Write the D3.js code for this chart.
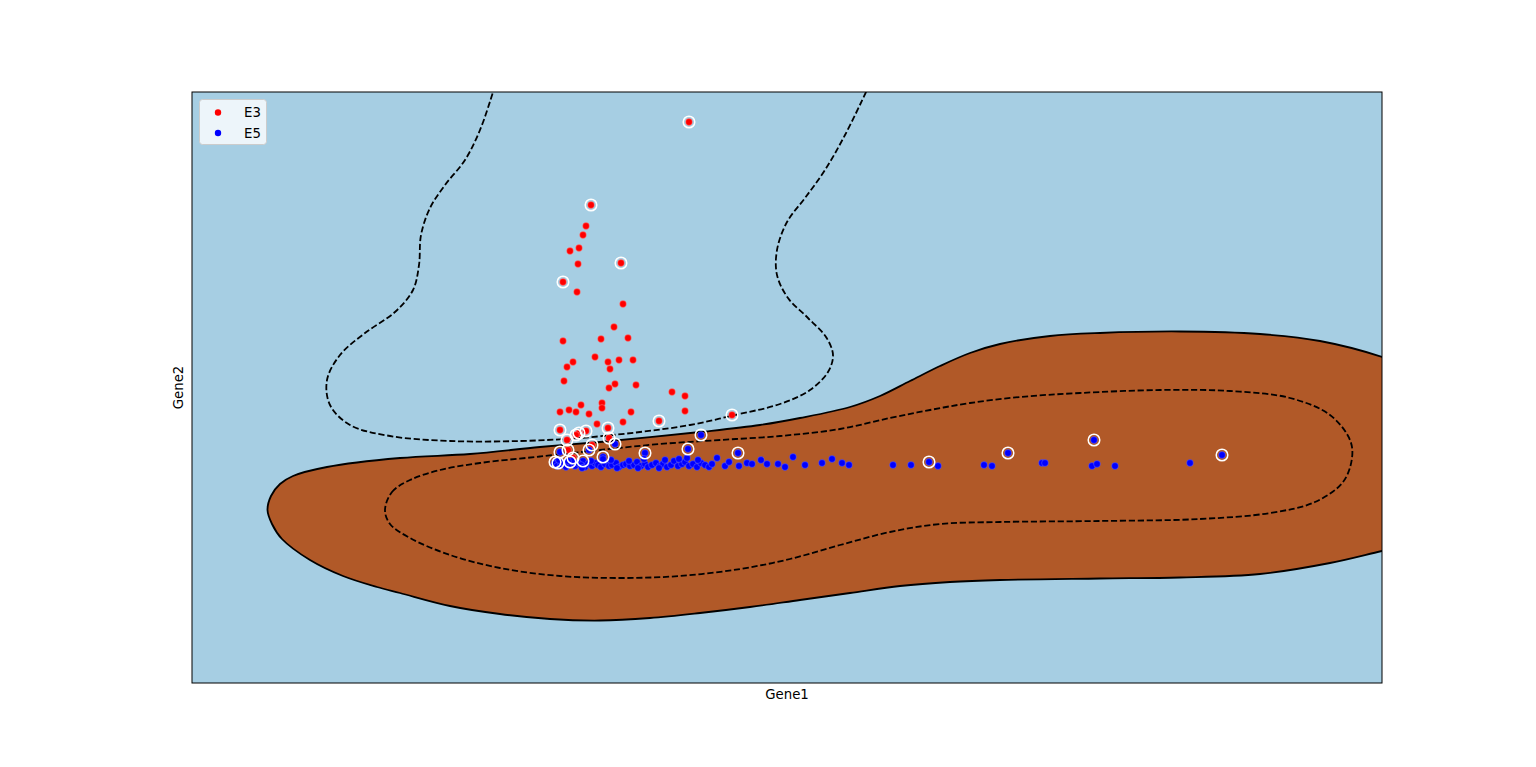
<!DOCTYPE html>
<html>
<head>
<meta charset="utf-8">
<script src="https://d3js.org/d3.v7.min.js"></script>
<style>
  html, body { margin: 0; padding: 0; background: #ffffff; }
  svg { display: block; }
  text { font-family: "DejaVu Sans", sans-serif; }
</style>
</head>
<body>
<script>
// ---------------- DATA ----------------
const seriesNames = ["E3", "E5"];
const axisTitles = ["Gene1", "Gene2"];

// E3 (red)
const e3X = [49.7, 39.9, 39.4, 39.1, 37.8, 38.7, 38.6, 42.9, 37.1, 38.5, 43.1, 42.2, 37.1, 40.9, 43.6,
  40.3, 38.1, 37.5, 41.6, 42.7, 44.1, 41.8, 37.2, 42.3, 41.7, 44.4, 48.0, 49.3, 49.3, 38.9,
  41.0, 41.0, 37.7, 36.8, 38.4, 39.7, 43.9, 43.1, 40.5, 46.7, 54.0, 36.8, 38.7, 39.4, 41.6,
  37.5, 38.4, 41.7, 40.0, 37.6, 38.1];
const e3Y = [56.1, 47.8, 45.7, 44.8, 43.2, 43.5, 41.9, 42.0, 40.1, 39.1, 37.9, 35.6, 34.2, 34.4, 34.5,
  32.6, 32.1, 31.6, 32.1, 32.3, 32.3, 31.4, 30.2, 29.9, 29.5, 29.8, 29.1, 28.7, 27.2, 27.8,
  28.0, 27.5, 27.3, 27.1, 27.1, 26.9, 27.1, 26.1, 25.9, 26.2, 26.8, 25.3, 25.0, 25.2, 25.5,
  24.3, 24.8, 24.5, 23.8, 23.3, 22.5];

// E5 (blue)
const e5X = [42.3, 50.9, 39.7, 36.8, 45.3, 49.6, 54.6, 41.1, 39.1, 37.8, 36.3, 36.6, 73.7, 81.6, 90.2, 103.0,
  52.5, 53.3, 53.7, 54.7, 55.5, 56.0, 56.9, 57.5, 58.6, 59.3, 60.1, 61.3, 63.0, 64.0, 65.0, 65.7,
  70.1, 71.9, 74.6, 79.2, 80.0, 85.0, 85.3, 90.0, 90.5, 92.3, 99.8,
  36.2, 36.5, 36.9, 37.2, 37.4, 37.9, 38.3, 38.6, 38.9, 39.3, 39.6, 40.0, 40.3, 40.6, 40.9, 41.3,
  41.7, 42.0, 42.4, 42.7, 43.1, 43.4, 43.8, 44.2, 44.5, 44.9, 45.3, 45.6, 46.0, 46.4, 46.8, 47.1,
  47.5, 47.9, 48.2, 48.6, 49.0, 49.3, 49.7, 50.1, 50.5, 50.9, 51.3, 51.7, 52.0, 38.0, 39.9, 41.9,
  43.7, 45.2, 47.3, 48.7, 50.6, 36.7, 37.6, 42.5, 44.6, 46.7, 39.0, 41.1, 49.5];
const e5Y = [23.9, 24.8, 23.3, 23.1, 23.0, 23.4, 23.0, 22.6, 22.2, 22.1, 22.1, 22.0, 22.1, 23.0, 24.3, 22.8,
  22.5, 21.7, 22.1, 21.7, 22.0, 21.9, 22.3, 21.9, 21.9, 21.6, 22.6, 21.8, 22.0, 22.4, 22.0, 21.8,
  21.8, 21.8, 21.7, 21.8, 21.7, 22.0, 22.0, 21.7, 21.9, 21.7, 22.0,
  21.9, 21.7, 21.8, 22.0, 21.6, 21.9, 21.7, 22.0, 21.8, 21.6, 21.9, 21.7, 22.0, 21.8, 21.6, 21.9,
  21.7, 21.8, 22.0, 21.6, 21.8, 21.9, 21.7, 21.8, 22.1, 21.7, 21.9, 21.6, 21.8, 22.0, 21.7, 21.9,
  21.6, 21.8, 22.2, 21.7, 21.9, 22.1, 21.7, 21.9, 21.6, 22.0, 21.8, 21.6, 21.9, 22.2, 22.2, 22.3,
  22.2, 22.4, 22.3, 22.4, 22.3, 22.3, 22.2, 21.5, 21.5, 21.5, 21.5, 22.4, 22.5];

// support vectors (ringed)
const svX = [49.7, 39.9, 42.9, 37.1, 46.7, 54.0, 36.8, 38.7, 39.4, 41.6, 37.5, 38.4, 41.7, 40.0, 37.6, 38.1,
  42.3, 50.9, 39.7, 36.8, 45.3, 49.6, 54.6, 41.1, 39.1, 37.8, 36.3, 36.6, 73.7, 81.6, 90.2, 103.0];
const svY = [56.1, 47.8, 42.0, 40.1, 26.2, 26.8, 25.3, 25.0, 25.2, 25.5, 24.3, 24.8, 24.5, 23.8, 23.3, 22.5,
  23.9, 24.8, 23.3, 23.1, 23.0, 23.4, 23.0, 22.6, 22.2, 22.1, 22.1, 22.0, 22.1, 23.0, 24.3, 22.8];

// decision boundary (level 0), closed
const boundaryX = [7.55, 7.9, 8.8, 10.1, 13.5, 20.8, 27.8, 34.8, 40.8, 50.8, 56.8, 60.8, 65.8, 68.8, 71.8, 74.8,
  77.8, 80.8, 85.8, 90.8, 98.8, 106.8, 112.8, 119.0, 123.8, 124.8, 123.8, 119.0, 113.8, 106.8, 98.8,
  90.8, 80.8, 75.8, 70.8, 65.8, 60.8, 55.8, 50.8, 45.8, 40.8, 35.8, 30.8, 25.8, 20.8, 18.5,
  15.1, 11.8, 9.0, 8.0];
const boundaryY = [17.3, 18.7, 19.9, 20.7, 21.6, 22.5, 22.9, 23.6, 24.1, 25.1, 25.8, 26.5, 27.6, 28.7, 30.2, 31.7,
  33.0, 33.9, 34.7, 35.0, 35.15, 34.9, 34.2, 32.6, 30.6, 22.3, 14.3, 13.2, 12.0, 10.9, 10.55,
  10.45, 10.3, 10.1, 9.7, 9.0, 8.3, 7.6, 7.0, 6.5, 6.25, 6.4, 6.9, 7.7, 9.0, 9.6,
  10.7, 12.3, 14.4, 15.9];

// upper margin (level -1), open
const marginUpX = [30.3, 30.1, 28.8, 27.3, 25.3, 23.8, 22.9, 22.7, 22.1, 20.3, 17.3, 14.8, 13.5, 13.8, 15.8,
  19.8, 25.8, 32.8, 38.8, 44.8, 49.8, 54.3, 58.8, 61.8, 63.6, 64.1, 63.4, 61.6, 59.6, 58.5,
  58.5, 59.5, 61.3, 63.3, 65.3, 67.4, 67.7];
const marginUpY = [59.8, 59.1, 55.3, 52.3, 49.8, 47.5, 44.8, 41.8, 39.3, 37.1, 35.0, 32.8, 30.3, 27.8, 25.8,
  24.7, 24.2, 24.2, 24.5, 25.1, 25.8, 26.8, 27.9, 29.3, 31.1, 32.8, 34.6, 36.5, 38.5, 40.8,
  43.3, 46.1, 48.5, 51.3, 54.8, 59.1, 59.8];

// lower margin (level +1), closed
const marginLowX = [19.3, 20.0, 21.8, 24.8, 28.8, 34.8, 40.8, 46.8, 52.8, 58.8, 64.8, 69.8, 73.8, 77.8, 82.8,
  88.8, 96.8, 103.8, 109.8, 113.8, 115.8, 116.0, 115.1, 112.3, 107.8, 100.8, 90.8, 80.8, 74.8, 69.8,
  64.8, 59.8, 54.8, 48.8, 42.8, 36.8, 30.8, 25.8, 21.8, 19.8];
const marginLowY = [17.3, 19.1, 20.3, 21.3, 22.0, 22.65, 23.3, 23.9, 24.3, 24.7, 25.4, 26.5, 27.3, 28.0, 28.6,
  29.0, 29.3, 29.2, 28.5, 26.8, 24.3, 22.5, 20.1, 18.1, 17.0, 16.4, 16.2, 16.1, 15.9, 15.1,
  13.8, 12.4, 11.4, 10.7, 10.5, 10.7, 11.5, 12.8, 14.5, 15.9];

const xDomain = [0, 119];
const yDomain = [0, 59.1];

// ---------------- DRAW ----------------
const W = 1536, H = 767;
const margin = { left: 192, right: 154, top: 92, bottom: 84 };
const pw = W - margin.left - margin.right;   // 1190
const ph = H - margin.top - margin.bottom;   // 591

const colBg = "#a6cee3", colIn = "#b15928";

const svg = d3.select("body").append("svg").attr("width", W).attr("height", H);
const x = d3.scaleLinear().domain(xDomain).range([0, pw]);
const y = d3.scaleLinear().domain(yDomain).range([ph, 0]);

const g = svg.append("g").attr("transform", `translate(${margin.left},${margin.top})`);
svg.append("defs").append("clipPath").attr("id", "clip")
  .append("rect").attr("width", pw).attr("height", ph);

g.append("rect").attr("width", pw).attr("height", ph).attr("fill", colBg);

const zip = (xs, ys) => xs.map((v, i) => [v, ys[i]]);
const closedLine = d3.line().x(d => x(d[0])).y(d => y(d[1])).curve(d3.curveCatmullRomClosed.alpha(0.5));
const openLine = d3.line().x(d => x(d[0])).y(d => y(d[1])).curve(d3.curveCatmullRom.alpha(0.5));

const lw = 1.8, dash = "6.2,2.7";
const cg = g.append("g").attr("clip-path", "url(#clip)");
const boundary = zip(boundaryX, boundaryY);
cg.append("path").attr("d", closedLine(boundary)).attr("fill", colIn);
cg.append("path").attr("d", closedLine(boundary)).attr("fill", "none")
  .attr("stroke", "#000").attr("stroke-width", lw);
cg.append("path").attr("d", openLine(zip(marginUpX, marginUpY))).attr("fill", "none")
  .attr("stroke", "#000").attr("stroke-width", lw).attr("stroke-dasharray", dash);
cg.append("path").attr("d", closedLine(zip(marginLowX, marginLowY))).attr("fill", "none")
  .attr("stroke", "#000").attr("stroke-width", lw).attr("stroke-dasharray", dash);

// points
const pg = g.append("g").attr("clip-path", "url(#clip)");
pg.selectAll("circle.e3").data(zip(e3X, e3Y)).join("circle").attr("class", "e3")
  .attr("cx", d => x(d[0])).attr("cy", d => y(d[1])).attr("r", 3.4)
  .attr("fill", "#ff0000").attr("stroke", "#ffb0b0").attr("stroke-width", 0.4);
pg.selectAll("circle.e5").data(zip(e5X, e5Y)).join("circle").attr("class", "e5")
  .attr("cx", d => x(d[0])).attr("cy", d => y(d[1])).attr("r", 3.4)
  .attr("fill", "#0000ff").attr("stroke", "#8080ff").attr("stroke-width", 0.4);
pg.selectAll("circle.sv").data(zip(svX, svY)).join("circle").attr("class", "sv")
  .attr("cx", d => x(d[0])).attr("cy", d => y(d[1])).attr("r", 5.8)
  .attr("fill", "none").attr("stroke", "#ffffff").attr("stroke-width", 1.5);

// frame
g.append("rect").attr("width", pw).attr("height", ph).attr("fill", "none")
  .attr("stroke", "#000").attr("stroke-width", 1);

// axis labels
svg.append("text").attr("x", margin.left + pw / 2).attr("y", margin.top + ph + 16)
  .attr("text-anchor", "middle").attr("font-size", 13.3).text(axisTitles[0]);
svg.append("text").attr("transform", `translate(${margin.left - 9},${margin.top + ph / 2}) rotate(-90)`)
  .attr("text-anchor", "middle").attr("font-size", 13.3).text(axisTitles[1]);

// legend
const lg = svg.append("g").attr("transform", `translate(${margin.left + 7.5},${margin.top + 7.5})`);
lg.append("rect").attr("width", 67).attr("height", 45).attr("rx", 3)
  .attr("fill", "rgba(255,255,255,0.8)").attr("stroke", "#cccccc").attr("stroke-width", 1);
const legColors = ["#ff0000", "#0000ff"];
seriesNames.forEach((n, i) => {
  lg.append("circle").attr("cx", 18.5).attr("cy", 13 + i * 20.5).attr("r", 3.2).attr("fill", legColors[i]);
  lg.append("text").attr("x", 44.5).attr("y", 13 + i * 20.5).attr("dy", "0.36em")
    .attr("font-size", 13.3).text(n);
});
</script>
</body>
</html>
